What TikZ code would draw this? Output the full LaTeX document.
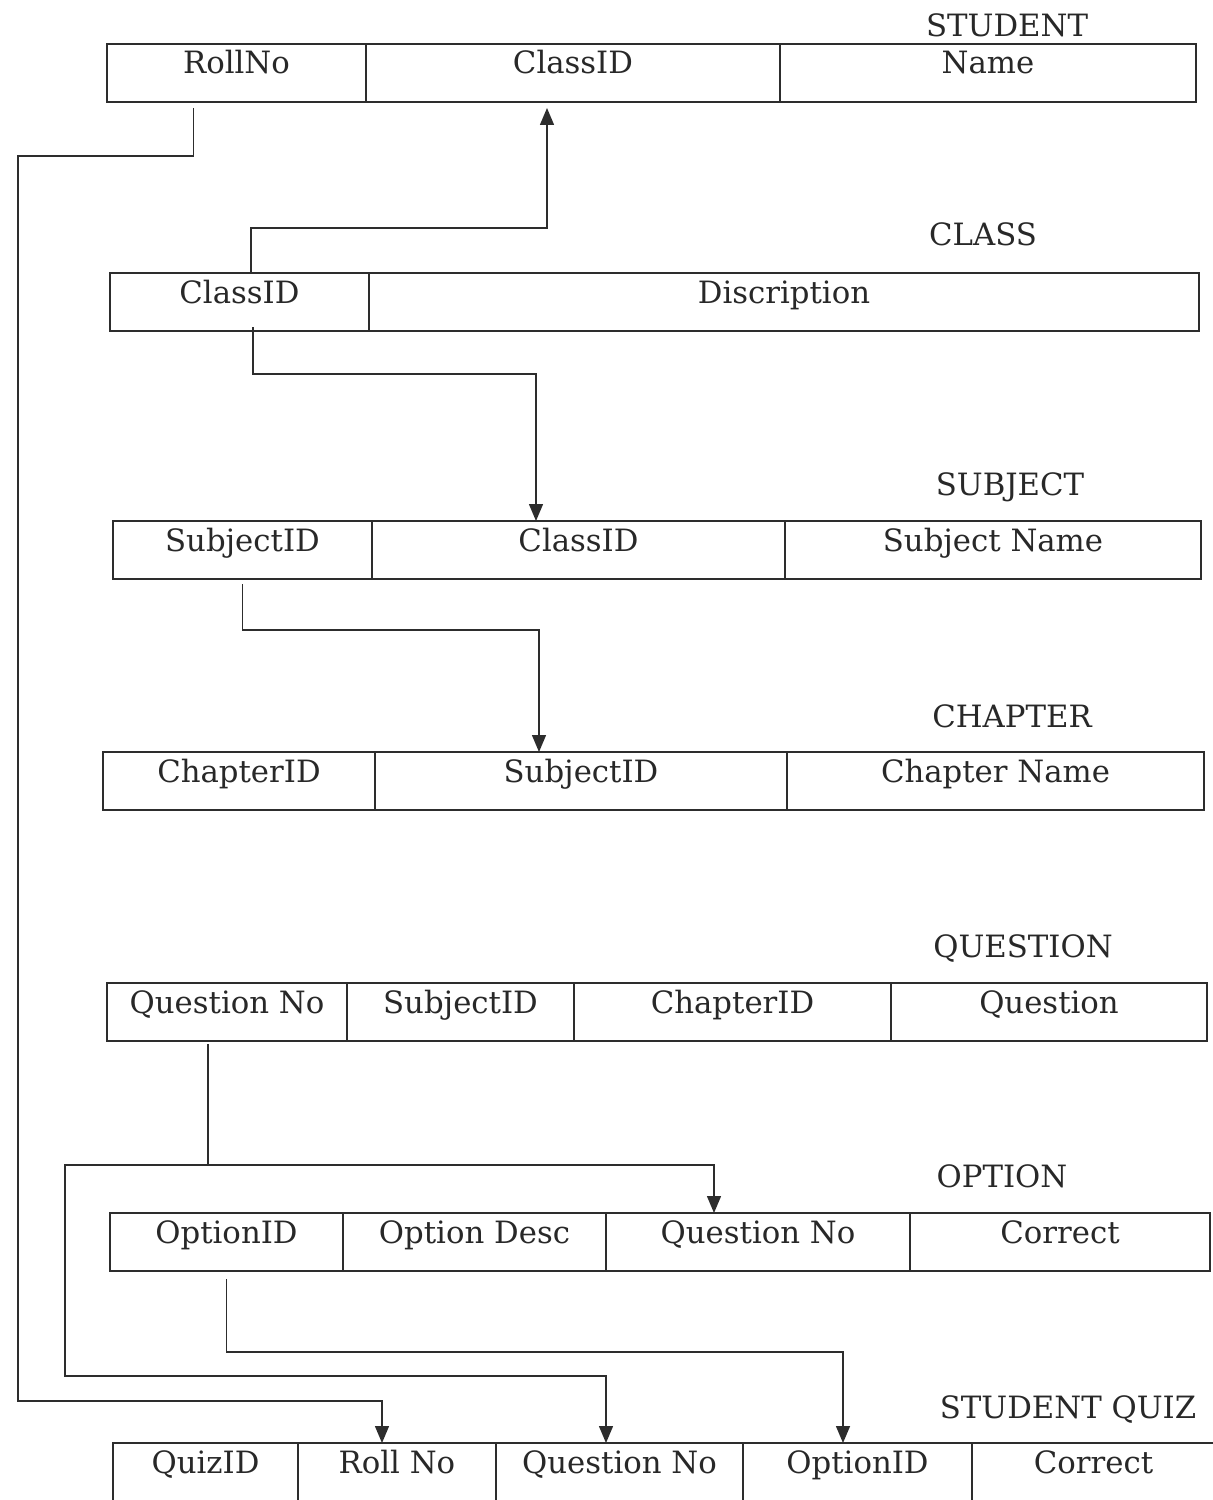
\documentclass[tikz,border=0pt]{standalone}
\usepackage{fontspec}
\setmainfont{DejaVu Serif}
\usepackage{tikz}
\usetikzlibrary{arrows.meta, positioning}
\definecolor{erdline}{RGB}{45,45,45}
\definecolor{erdtext}{RGB}{40,40,40}
\tikzset{
  cell/.style={
    rectangle, draw=erdline, line width=0.8pt, inner sep=0pt, outer sep=0pt,
    minimum height=1.16cm, text height=0.6cm, text depth=0.56cm,
    align=center, text=erdtext, font=\fontsize{17.5}{20}\selectfont
  },
  tabletitle/.style={
    anchor=base, inner sep=0pt, text=erdtext, font=\fontsize{17.5}{20}\selectfont
  },
  fk/.style={-{Triangle[length=0.34cm, width=0.28cm]}, line width=0.8pt, draw=erdline}
}

\begin{document}
\begin{tikzpicture}[node distance=0cm]
\useasboundingbox (0,0) rectangle (24.26,-30.00);

% STUDENT
\node[tabletitle] (sttitle) at (20.14,-0.74) {STUDENT};
\node[cell, anchor=north west, minimum width=5.18cm] (stroll) at (2.14,-0.88) {RollNo};
\node[cell, right=of stroll, minimum width=8.28cm] (stclass) {ClassID};
\node[cell, right=of stclass, minimum width=8.32cm] (stname) {Name};

% CLASS
\node[tabletitle] (cltitle) at (19.66,-4.92) {CLASS};
\node[cell, anchor=north west, minimum width=5.18cm] (clid) at (2.20,-5.46) {ClassID};
\node[cell, right=of clid, minimum width=16.60cm] (cldesc) {Discription};

% SUBJECT
\node[tabletitle] (sbtitle) at (20.20,-9.90) {SUBJECT};
\node[cell, anchor=north west, minimum width=5.18cm] (sbid) at (2.26,-10.42) {SubjectID};
\node[cell, right=of sbid, minimum width=8.26cm] (sbclass) {ClassID};
\node[cell, right=of sbclass, minimum width=8.32cm] (sbname) {Subject Name};

% CHAPTER
\node[tabletitle] (chtitle) at (20.24,-14.54) {CHAPTER};
\node[cell, anchor=north west, minimum width=5.44cm] (chid) at (2.06,-15.04) {ChapterID};
\node[cell, right=of chid, minimum width=8.24cm] (chsubj) {SubjectID};
\node[cell, right=of chsubj, minimum width=8.34cm] (chname) {Chapter Name};

% QUESTION
\node[tabletitle] (qntitle) at (20.46,-19.14) {QUESTION};
\node[cell, anchor=north west, minimum width=4.80cm] (qnno) at (2.14,-19.66) {Question No};
\node[cell, right=of qnno, minimum width=4.54cm] (qnsubj) {SubjectID};
\node[cell, right=of qnsubj, minimum width=6.34cm] (qnchap) {ChapterID};
\node[cell, right=of qnchap, minimum width=6.32cm] (qntext) {Question};

% OPTION
\node[tabletitle] (optitle) at (20.04,-23.74) {OPTION};
\node[cell, anchor=north west, minimum width=4.66cm] (opid) at (2.20,-24.26) {OptionID};
\node[cell, right=of opid, minimum width=5.26cm] (opdesc) {Option Desc};
\node[cell, right=of opdesc, minimum width=6.08cm] (opqno) {Question No};
\node[cell, right=of opqno, minimum width=6.00cm] (opcorr) {Correct};

% STUDENT QUIZ
\node[tabletitle] (qztitle) at (21.36,-28.36) {STUDENT QUIZ};
\node[cell, anchor=north west, minimum width=3.70cm] (qzid) at (2.26,-28.86) {QuizID};
\node[cell, right=of qzid, minimum width=3.96cm] (qzroll) {Roll No};
\node[cell, right=of qzroll, minimum width=4.94cm] (qzqno) {Question No};
\node[cell, right=of qzqno, minimum width=4.58cm] (qzopt) {OptionID};
\node[cell, right=of qzopt, minimum width=4.86cm] (qzcorr) {Correct};

% foreign keys
\draw[fk] ([xshift=0.23cm]clid.north) -- ++(0,0.90) -| ([xshift=-0.52cm,yshift=-0.12cm]stclass.south);
\draw[fk] ([xshift=0.27cm,yshift=0.08cm]clid.south) -- ++(0,-0.94) -| ([xshift=-0.85cm]sbclass.north);
\draw[fk] ([yshift=-0.10cm]sbid.south) -- ++(0,-0.92) -| ([xshift=-0.84cm]chsubj.north);
\draw[fk] ([xshift=-0.38cm,yshift=-0.06cm]qnno.south) -- ++(0,-2.42) coordinate (qsplit) -| ([xshift=-0.88cm]opqno.north);
\draw[fk] (qsplit) -| (1.30,-27.52) -| ([xshift=-0.27cm]qzqno.north);
\draw[fk] ([yshift=-0.16cm]opid.south) -- ++(0,-1.46) -| ([xshift=-0.29cm]qzopt.north);
\draw[fk] ([xshift=-0.86cm,yshift=-0.12cm]stroll.south) -- ++(0,-0.96) -| (0.36,-28.02) -| ([xshift=-0.30cm]qzroll.north);

\end{tikzpicture}
\end{document}
